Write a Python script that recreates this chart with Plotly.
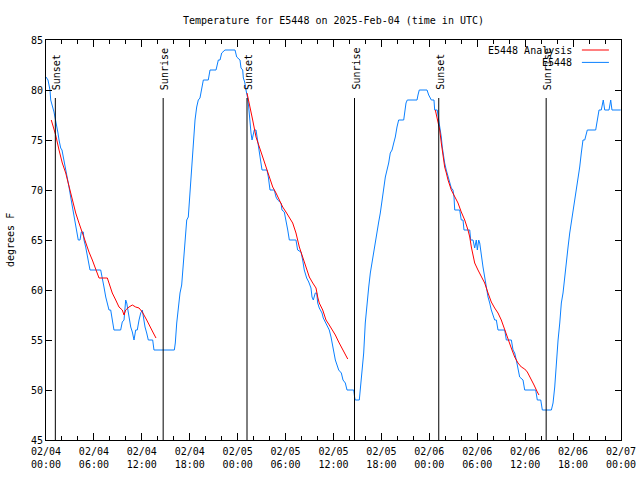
import pandas as pd
import plotly.graph_objects as go

START = pd.Timestamp("2025-02-04 00:00")

# Observed temperature (hours after 2025-02-04 00:00 UTC, degrees F)
obs_hours = [
    0.00, 0.25, 0.50, 0.59, 1.00, 1.21, 1.34, 1.50, 1.63, 1.84,
    2.00, 2.25, 2.47, 2.63, 2.88, 3.09, 3.29, 3.51, 3.72, 3.92,
    4.04, 4.26, 4.42, 4.67, 4.76, 4.97, 5.17, 5.38, 5.51, 6.85,
    7.05, 7.26, 7.48, 7.68, 7.89, 8.10, 8.30, 8.51, 9.35, 9.55,
    9.77, 9.98, 10.11, 10.18, 10.39, 10.61, 10.81, 11.02, 11.23, 11.43,
    11.65, 11.86, 12.06, 12.18, 12.40, 12.61, 12.81, 13.36, 13.52, 16.07,
    16.19, 16.37, 16.57, 16.78, 16.99, 17.19, 17.41, 17.62, 17.82, 18.03,
    18.24, 18.44, 18.66, 18.87, 19.07, 19.28, 19.50, 19.70, 20.32, 20.54,
    21.29, 21.58, 21.79, 22.00, 22.41, 23.67, 23.88, 24.29,
    24.42, 24.63, 24.71, 24.88, 25.04, 25.25, 25.38, 25.46, 25.54, 25.67,
    25.80, 25.96, 26.08, 26.30, 26.42, 26.55, 26.71, 26.83, 27.05, 27.67,
    27.84, 28.05, 28.59, 28.80, 29.01, 29.43, 29.55, 29.84, 30.05, 30.27,
    30.47, 31.30, 31.51, 31.93, 32.14, 32.34, 32.64, 32.90, 33.18, 33.31,
    33.47, 33.72, 33.90, 34.02, 34.22, 34.56, 34.72, 35.06, 35.27, 35.47,
    35.69, 35.90, 36.10, 36.23, 36.65, 36.98, 37.19, 37.48, 37.69, 38.53,
    38.66, 38.73, 39.23, 39.36, 39.57, 39.78, 39.98, 40.20, 40.41, 40.61,
    40.82, 41.03, 41.23, 41.45, 41.66, 41.86, 42.07, 42.29, 42.49, 42.70,
    42.91, 43.11, 43.33, 43.54, 43.74, 43.95, 44.16, 44.79, 44.92, 45.08,
    45.24, 46.46, 46.58, 46.74, 47.71, 47.92, 48.25, 48.58, 48.67, 48.99,
    49.17, 49.34, 49.50, 49.62, 49.75, 49.92, 50.12, 50.34, 50.55, 50.75,
    50.96, 51.09, 51.18, 51.80, 52.00, 52.22, 52.34, 53.06, 53.18, 53.47,
    53.68, 53.88, 54.01, 54.18, 54.31, 54.51, 54.72, 54.93, 55.13, 55.35,
    55.56, 55.76, 56.18, 56.39, 56.60, 57.44, 57.64, 58.27, 58.48, 58.69,
    58.89, 59.10, 59.31, 59.73, 59.94, 61.32, 61.52, 61.95, 62.15, 63.28,
    63.49, 63.70, 63.91, 64.12, 64.33, 64.53, 64.74, 64.95, 65.16, 65.37,
    65.58, 65.78, 65.99, 66.20, 66.40, 66.62, 66.83, 67.03, 67.24, 67.46,
    67.78, 68.83, 69.03, 69.25, 69.53, 69.78, 69.96, 70.50, 70.71, 70.87,
    71.96,
]
obs_temp = [
    81.3, 81, 80, 79, 77.8, 77, 76.3, 75.7, 75, 74.2,
    74, 73, 72.3, 71.3, 70.3, 69.3, 68.3, 67.3, 66.3, 65.3,
    65, 65, 65.8, 65.8, 65, 64.3, 63.5, 62.7, 62, 62,
    61.3, 60.3, 59.3, 58.7, 58, 58, 57, 56, 56, 56.8,
    57, 59, 58.7, 58.3, 57.3, 56.3, 55.8, 55, 56, 56,
    57, 57.7, 58, 57.3, 56.3, 55.7, 55, 55, 54, 54,
    54.7, 56.7, 58.3, 59.7, 60.5, 62.3, 64.3, 67, 67.3, 69.7,
    71.3, 73.7, 77, 78.3, 79, 79.2, 80, 81, 81, 82,
    82, 83, 83, 83.7, 84, 84, 83.3, 83,
    82.2, 82, 81.2, 80.8, 80, 79.2, 78.3, 77.3, 76.3, 75.7,
    75, 75.5, 76, 76, 75.3, 74.7, 74, 73, 72, 72,
    71.3, 70, 70, 69.3, 69, 68.7, 68, 67.8, 67, 66,
    65, 65, 64, 63.8, 63, 62, 61.2, 60.8, 60.2, 59.3,
    59, 59.7, 59.7, 58.7, 58.2, 57.7, 57.2, 56.7, 56.3, 56,
    55.3, 54.5, 53.7, 53, 52, 51.7, 51, 50.7, 50, 50,
    49.2, 49, 49, 50.3, 52.3, 53.7, 56.7, 59, 60.3, 61.7,
    62.8, 63.7, 65, 66, 66.8, 67.7, 69, 70.3, 71.3, 72,
    72.7, 73.7, 74, 74.7, 75.3, 76.3, 77, 77, 78, 78.7,
    79, 79, 79.5, 80, 80, 79.5, 79, 79, 78, 78,
    77, 76.2, 75.3, 74.3, 73.3, 72.7, 72, 71.3, 70.7, 70.2,
    70, 69.3, 68, 68, 67, 67, 66, 66, 65, 65,
    64.2, 65, 64, 65, 64.7, 63.3, 62.3, 61.3, 60.3, 59.3,
    58.7, 58, 57, 57, 56, 56, 55, 55, 54, 53.7,
    53, 52, 51.3, 51, 50, 50, 49, 49, 48, 48,
    48.7, 50.3, 53, 55, 56.7, 58.7, 59.7, 61.3, 63.3, 64.3,
    65.7, 66.7, 67.7, 69, 70, 71, 72.3, 73.7, 75, 75,
    76, 76, 77, 78, 78, 79, 78, 78, 79, 78,
    78,
]

# Analysis curves (one per night)
ana1_hours = [0.66, 1.00, 1.21, 1.63, 2.04, 2.47, 2.88, 3.29, 3.72, 4.13,
              4.55, 4.97, 5.38, 5.80, 6.22, 6.64, 7.68, 7.89, 8.30, 8.73,
              9.14, 9.55, 9.77, 9.98, 10.39, 10.81, 11.23, 11.65, 12.06, 12.61,
              13.02, 13.44, 13.77]
ana1_temp = [77, 76.2, 75.5, 74, 72.7, 71.7, 70.3, 69, 67.7, 66.7,
             65.7, 64.8, 63.8, 63, 62, 61.2, 61.2, 60.7, 59.7, 59,
             58.3, 58, 57.5, 58, 58.3, 58.5, 58.3, 58.2, 57.8, 57,
             56.3, 55.7, 55.2]
ana2_hours = [25.17, 25.46, 25.88, 26.30, 26.71, 27.14, 27.55, 27.96, 28.39, 28.80,
              29.21, 29.64, 30.05, 30.47, 30.89, 31.30, 31.72, 32.14, 32.56, 32.97,
              33.40, 33.81, 34.02, 34.22, 34.65, 35.06, 35.47, 35.90, 36.23, 36.65,
              37.07, 37.48, 37.78]
ana2_temp = [79.7, 78.7, 77, 75.3, 74.3, 73.3, 72.3, 71.3, 70.3, 69.7,
             69, 68.3, 67.8, 67.3, 66.7, 65.7, 64.3, 63.3, 62.3, 61.3,
             60.7, 60.2, 59.3, 58.7, 58, 57, 56.5, 56, 55.5, 54.8,
             54.2, 53.5, 53.1]
ana3_hours = [48.75, 49.09, 49.30, 49.50, 49.71, 49.92, 50.13, 50.34, 50.75, 51.18,
              51.59, 52.00, 52.43, 52.84, 53.06, 53.26, 53.47, 53.68, 54.09, 54.51,
              54.93, 55.35, 55.76, 56.18, 56.60, 57.01, 57.44, 57.85, 58.26, 58.69,
              59.10, 59.52, 59.94, 60.27, 60.69, 61.11, 61.52, 61.73]
ana3_temp = [78, 76.8, 76, 74.7, 73.3, 72.3, 71.7, 71, 70, 69.3,
             68.7, 67.8, 67, 66, 65.3, 64.3, 63.3, 62.7, 62, 61.3,
             60.7, 59.7, 58.8, 58.2, 57.7, 57, 56, 55, 54.2, 53.3,
             52.7, 52.3, 52.1, 51.8, 51.2, 50.5, 49.8, 49.5]

sun_event_hours = [1.17, 14.67, 25.17, 38.63, 49.18, 62.63]
sun_event_names = ["Sunset", "Sunrise", "Sunset", "Sunrise", "Sunset", "Sunrise"]

y_tick_vals = [45, 50, 55, 60, 65, 70, 75, 80, 85]
x_tick_hours = [0, 6, 12, 18, 24, 30, 36, 42, 48, 54, 60, 66, 72]
x_tick_text = ["02/04<br>00:00", "02/04<br>06:00", "02/04<br>12:00", "02/04<br>18:00",
               "02/05<br>00:00", "02/05<br>06:00", "02/05<br>12:00", "02/05<br>18:00",
               "02/06<br>00:00", "02/06<br>06:00", "02/06<br>12:00", "02/06<br>18:00",
               "02/07<br>00:00"]

TITLE = "Temperature for E5448 on 2025-Feb-04 (time in UTC)"
RED = "#ff0000"
BLUE = "#0a80ff"
FONT = "DejaVu Sans Mono"


def to_time(hours):
    return [START + pd.Timedelta(hours=h) for h in hours]


ana_x = to_time(ana1_hours) + [None] + to_time(ana2_hours) + [None] + to_time(ana3_hours)
ana_y = ana1_temp + [None] + ana2_temp + [None] + ana3_temp

fig = go.Figure()
fig.add_trace(go.Scatter(x=to_time(obs_hours), y=obs_temp, mode="lines",
                         name="E5448", line=dict(color=BLUE, width=1)))
fig.add_trace(go.Scatter(x=ana_x, y=ana_y, mode="lines", connectgaps=False,
                         name="E5448 Analysis", line=dict(color=RED, width=1)))

shapes = []
annotations = []
for h, name in zip(sun_event_hours, sun_event_names):
    t = START + pd.Timedelta(hours=h)
    shapes.append(dict(type="line", xref="x", yref="paper", x0=t, x1=t, y0=0, y1=0.855,
                       line=dict(color="black", width=1)))
    annotations.append(dict(x=t, y=0.87, xref="x", yref="paper", text=name,
                            textangle=-90, showarrow=False, xanchor="center",
                            yanchor="bottom", xshift=1,
                            font=dict(family=FONT, size=10, color="black")))

# gnuplot-style legend: text right-aligned, sample line to the right
legend_items = [("E5448 Analysis", RED, 0.975), ("E5448", BLUE, 0.944)]
for label, color, yy in legend_items:
    annotations.append(dict(x=0.918, y=yy, xref="paper", yref="paper", text=label,
                            showarrow=False, xanchor="right", yanchor="middle",
                            font=dict(family=FONT, size=10, color="black")))
    shapes.append(dict(type="line", xref="paper", yref="paper", x0=0.932, x1=0.979,
                       y0=yy, y1=yy, line=dict(color=color, width=1)))

annotations.append(dict(x=-0.0626, y=0.5, xref="paper", yref="paper", text="degrees F",
                        textangle=-90, showarrow=False, xanchor="center", yanchor="middle",
                        font=dict(family=FONT, size=10, color="black")))

fig.update_layout(
    width=640, height=480, autosize=False,
    margin=dict(l=46, r=19, t=40, b=40, pad=0, autoexpand=False),
    paper_bgcolor="white", plot_bgcolor="white",
    showlegend=False,
    title=dict(text=TITLE, x=0.5, xref="paper", xanchor="center",
               y=1 - 20 / 480, yref="container", yanchor="middle",
               font=dict(family=FONT, size=10, color="black")),
    font=dict(family=FONT, size=10, color="black"),
    shapes=shapes, annotations=annotations,
)
fig.update_xaxes(
    range=[START, START + pd.Timedelta(hours=72)], automargin=False,
    tickmode="array", tickvals=to_time(x_tick_hours), ticktext=x_tick_text,
    ticks="inside", ticklen=7, tickcolor="black", tickwidth=1, ticklabelstandoff=2,
    minor=dict(ticks="inside", ticklen=4, tickcolor="black", tickwidth=1,
               tick0=START, dtick=2 * 3600 * 1000, showgrid=False),
    showline=True, linecolor="black", linewidth=1, mirror="ticks",
    showgrid=False, zeroline=False,
    tickfont=dict(family=FONT, size=10, color="black"),
)
fig.update_yaxes(
    range=[45, 85], automargin=False, tickmode="array", tickvals=y_tick_vals,
    ticks="inside", ticklen=6, tickcolor="black", tickwidth=1,
    showline=True, linecolor="black", linewidth=1, mirror="ticks",
    showgrid=False, zeroline=False,
    tickfont=dict(family=FONT, size=10, color="black"),
)

fig.write_html("out.html", config={"displayModeBar": False},
               post_script="document.body.style.margin='0';document.body.style.overflow='hidden';")
